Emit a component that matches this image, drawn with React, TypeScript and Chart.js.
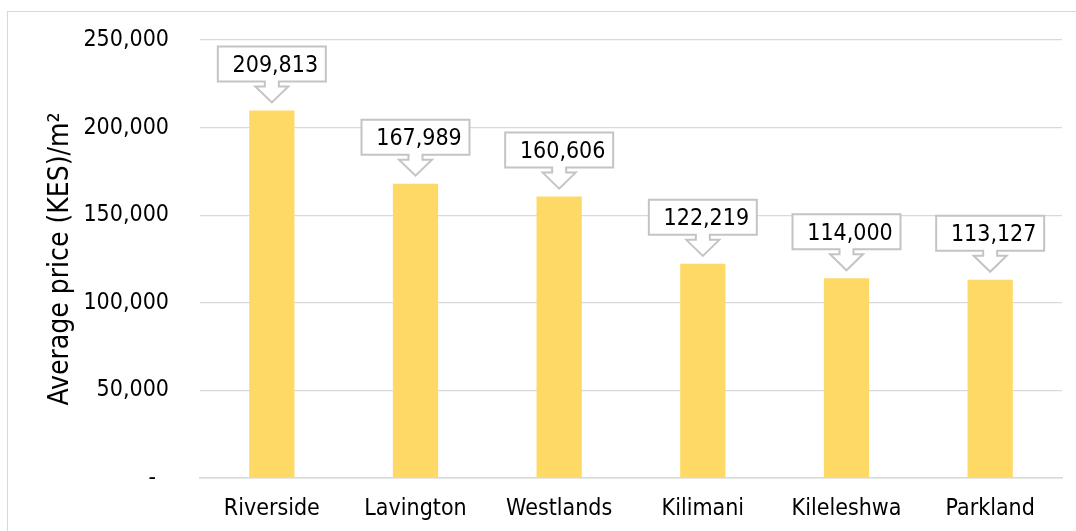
import React, { useEffect, useRef } from "react";
import { Chart, registerables } from "chart.js";

Chart.register(...registerables);

const categories = ["Riverside", "Lavington", "Westlands", "Kilimani", "Kileleshwa", "Parkland"];
const avgPrice = [209813, 167989, 160606, 122219, 114000, 113127];
const yTicks = [0, 50000, 100000, 150000, 200000, 250000];

const FONT = '"DejaVu Sans Condensed", "DejaVu Sans", "Noto Sans", sans-serif';

const fmt = (v: number) => v.toLocaleString("en-US");

const calloutPlugin = {
  id: "callouts",
  afterDatasetsDraw(chart: any) {
    const ctx = chart.ctx;
    const meta = chart.getDatasetMeta(0);
    ctx.save();
    meta.data.forEach((bar: any, i: number) => {
      const cx = bar.x;
      const top = bar.y;
      const w = 108;
      const h = 35;
      const tip = top - 8;
      const bb = tip - 21;
      const bt = bb - h;
      const bl = cx - w / 2;
      const br = cx + w / 2;
      const sh = 7;
      const hw = 16.5;
      const sy = bb + 5;
      ctx.beginPath();
      ctx.moveTo(bl, bt);
      ctx.lineTo(br, bt);
      ctx.lineTo(br, bb);
      ctx.lineTo(cx + sh, bb);
      ctx.lineTo(cx + sh, sy);
      ctx.lineTo(cx + hw, sy);
      ctx.lineTo(cx, tip);
      ctx.lineTo(cx - hw, sy);
      ctx.lineTo(cx - sh, sy);
      ctx.lineTo(cx - sh, bb);
      ctx.lineTo(bl, bb);
      ctx.closePath();
      ctx.fillStyle = "#ffffff";
      ctx.fill();
      ctx.lineWidth = 2;
      ctx.strokeStyle = "#c4c4c4";
      ctx.stroke();
      ctx.fillStyle = "#000000";
      ctx.font = `23px ${FONT}`;
      ctx.textAlign = "center";
      ctx.textBaseline = "middle";
      ctx.fillText(fmt(avgPrice[i]), cx + 3.5, (bt + bb) / 2 + 2);
    });
    ctx.restore();
  },
};

export default function App() {
  const ref = useRef<HTMLCanvasElement | null>(null);

  useEffect(() => {
    if (!ref.current) return;
    const chart = new Chart(ref.current, {
      type: "bar",
      data: {
        labels: categories,
        datasets: [
          {
            data: avgPrice,
            backgroundColor: "#FFD966",
            borderWidth: 0,
            categoryPercentage: 1,
            barPercentage: 0.315,
          },
        ],
      },
      options: {
        responsive: false,
        animation: false,
        layout: { padding: { top: 40, right: 14, left: 0, bottom: 0 } },
        plugins: {
          legend: { display: false },
          tooltip: { enabled: false },
        },
        scales: {
          x: {
            grid: { display: false, drawTicks: false },
            border: { display: true, color: "#d9d9d9", width: 1.5 },
            ticks: {
              color: "#000000",
              font: { family: FONT, size: 23 },
              padding: 17,
              maxRotation: 0,
            },
            afterFit: (s: any) => {
              s.height = 53;
              s.paddingLeft = 0;
              s.paddingRight = 0;
            },
          },
          y: {
            min: 0,
            max: 250000,
            afterBuildTicks: (s: any) => {
              s.ticks = yTicks.map((v) => ({ value: v }));
            },
            grid: { color: "#d9d9d9", lineWidth: 1.3, drawTicks: false },
            border: { display: false },
            ticks: {
              color: "#000000",
              font: { family: FONT, size: 23 },
              padding: 31,
              callback: (v: any) => (Number(v) === 0 ? "-  " : fmt(Number(v))),
            },
            title: {
              display: true,
              text: "Average price (KES)/m²",
              color: "#000000",
              font: { family: FONT, size: 28 },
              padding: { top: 44, bottom: 0 },
            },
            afterFit: (s: any) => {
              s.width = 200;
              s.paddingTop = 0;
              s.paddingBottom = 0;
            },
          },
        },
      },
      plugins: [calloutPlugin],
    });
    return () => chart.destroy();
  }, []);

  return (
    <div style={{ position: "fixed", left: 0, top: 0, width: 1076, height: 531, overflow: "hidden", background: "#fff" }}>
      <div
        style={{
          position: "absolute",
          left: 7,
          top: 11,
          width: 1200,
          height: 700,
          borderLeft: "1px solid #d9d9d9",
          borderTop: "1px solid #d9d9d9",
        }}
      />
      <canvas ref={ref} width={1076} height={531} style={{ position: "absolute", left: 0, top: 0, width: 1076, height: 531 }} />
    </div>
  );
}
